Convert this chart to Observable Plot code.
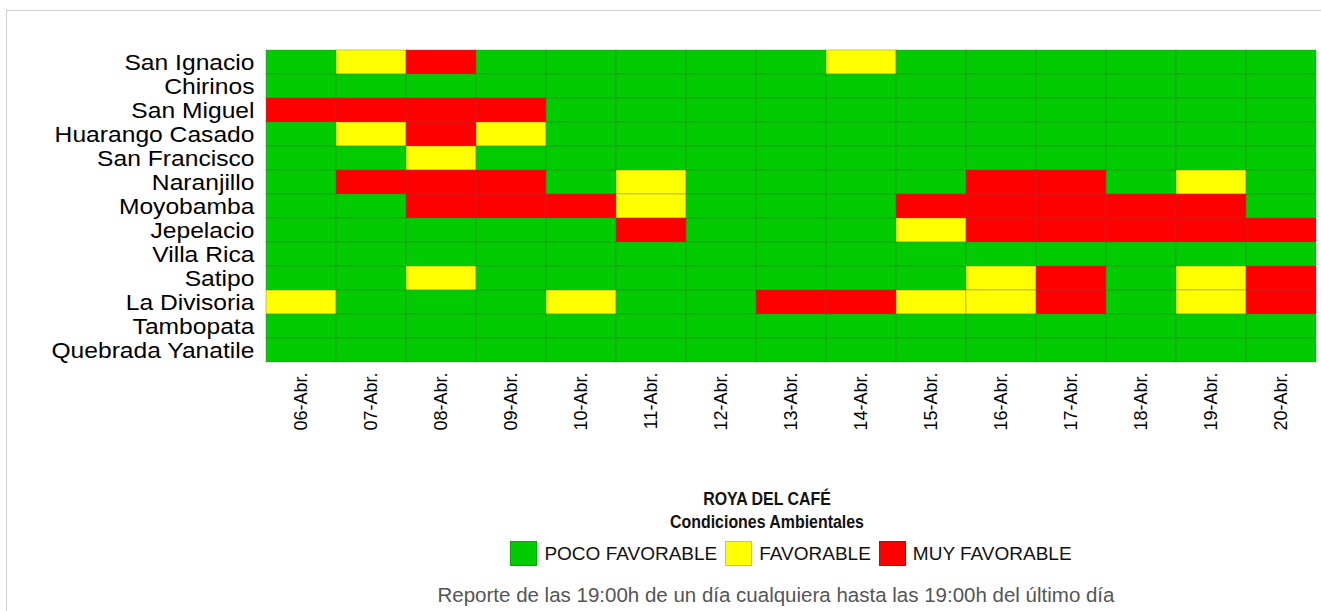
<!DOCTYPE html>
<html>
<head>
<meta charset="utf-8">
<script src="https://cdn.jsdelivr.net/npm/d3@7"></script>
<script src="https://cdn.jsdelivr.net/npm/@observablehq/plot@0.6"></script>
<style>
  html, body { margin: 0; padding: 0; background: #fff; font-family: "Liberation Sans", Arial, sans-serif; }
  #wrap { position: absolute; left: 0; top: 0; width: 1321px; height: 611px; overflow: hidden; }
  #frame { position: absolute; left: 6px; top: 10px; width: 1400px; height: 700px; border: 1px solid #cfcfcf; box-sizing: border-box; }
  #chart { position: absolute; left: 0; top: 0; }
  .center { position: absolute; width: 900px; text-align: center; white-space: nowrap; }
  #title { top: 487px; left: 317px; font-weight: bold; font-size: 18.5px; line-height: 23px; color: #111; transform: scaleX(0.86); transform-origin: 450px 0; }
  #legend { top: 541px; left: 341px; font-size: 19px; color: #111; display: flex; justify-content: center; align-items: center; }
  .item { display: flex; align-items: center; margin: 0 4px; }
  .sw { width: 27px; height: 25px; box-sizing: border-box; border: 1px solid rgba(0,0,0,0.18); margin-right: 7px; }
  #caption { top: 583px; left: 326px; font-size: 20.5px; color: #555; }
</style>
</head>
<body>
<div id="wrap">
<div id="frame"></div>
<div id="chart"></div>
<div id="title" class="center">ROYA DEL CAFÉ<br>Condiciones Ambientales</div>
<div id="legend" class="center"></div>
<div id="caption" class="center">Reporte de las 19:00h de un día cualquiera hasta las 19:00h del último día</div>
</div>
<script>
const fechas = ["06-Abr.", "07-Abr.", "08-Abr.", "09-Abr.", "10-Abr.", "11-Abr.", "12-Abr.", "13-Abr.", "14-Abr.", "15-Abr.", "16-Abr.", "17-Abr.", "18-Abr.", "19-Abr.", "20-Abr."];
const localidades = ["San Ignacio", "Chirinos", "San Miguel", "Huarango Casado", "San Francisco", "Naranjillo", "Moyobamba", "Jepelacio", "Villa Rica", "Satipo", "La Divisoria", "Tambopata", "Quebrada Yanatile"];
const niveles = ["POCO FAVORABLE", "FAVORABLE", "MUY FAVORABLE"];
const colores = ["#00cc00", "#ffff00", "#ff0000"];
// 0 = poco favorable, 1 = favorable, 2 = muy favorable
const condiciones = [
  [0,1,2,0,0,0,0,0,1,0,0,0,0,0,0],
  [0,0,0,0,0,0,0,0,0,0,0,0,0,0,0],
  [2,2,2,2,0,0,0,0,0,0,0,0,0,0,0],
  [0,1,2,1,0,0,0,0,0,0,0,0,0,0,0],
  [0,0,1,0,0,0,0,0,0,0,0,0,0,0,0],
  [0,2,2,2,0,1,0,0,0,0,2,2,0,1,0],
  [0,0,2,2,2,1,0,0,0,2,2,2,2,2,0],
  [0,0,0,0,0,2,0,0,0,1,2,2,2,2,2],
  [0,0,0,0,0,0,0,0,0,0,0,0,0,0,0],
  [0,0,1,0,0,0,0,0,0,0,1,2,0,1,2],
  [1,0,0,0,1,0,0,2,2,1,1,2,0,1,2],
  [0,0,0,0,0,0,0,0,0,0,0,0,0,0,0],
  [0,0,0,0,0,0,0,0,0,0,0,0,0,0,0]
];

const datos = [];
localidades.forEach((loc, i) => {
  fechas.forEach((f, j) => {
    datos.push({localidad: loc, fecha: f, nivel: niveles[condiciones[i][j]]});
  });
});

const chart = Plot.plot({
  width: 1321,
  height: 440,
  marginLeft: 262,
  marginRight: 1,
  marginTop: 50,
  marginBottom: 78,
  style: {fontFamily: "'Liberation Sans', Arial, sans-serif", color: "#000", background: "transparent"},
  x: {domain: fechas, padding: 0},
  y: {domain: localidades, padding: 0},
  color: {domain: niveles, range: colores},
  marks: [
    Plot.cell(datos, {x: "fecha", y: "localidad", fill: "nivel", stroke: "#555", strokeOpacity: 0.35, strokeWidth: 1}),
    Plot.axisY({tickSize: 0, tickPadding: 8, fontSize: 22, label: null}),
    Plot.axisX({tickSize: 0, tickPadding: 10, tickRotate: -90, fontSize: 18, label: null})
  ]
});
document.getElementById("chart").appendChild(chart);

// widen the row labels horizontally, anchored at their right end
chart.querySelectorAll("text").forEach(t => {
  if (!localidades.includes(t.textContent)) return;
  const b = t.getBBox();
  const ax = b.x + b.width;
  const tr = t.getAttribute("transform") || "";
  t.setAttribute("transform", `${tr} translate(${ax},0) scale(1.12,1) translate(${-ax},0)`);
});

const legend = document.getElementById("legend");
niveles.forEach((n, i) => {
  const it = document.createElement("div");
  it.className = "item";
  const sw = document.createElement("div");
  sw.className = "sw";
  sw.style.background = chart.scale("color").apply(n);
  const t = document.createElement("span");
  t.textContent = n;
  it.appendChild(sw);
  it.appendChild(t);
  legend.appendChild(it);
});
</script>
</body>
</html>
